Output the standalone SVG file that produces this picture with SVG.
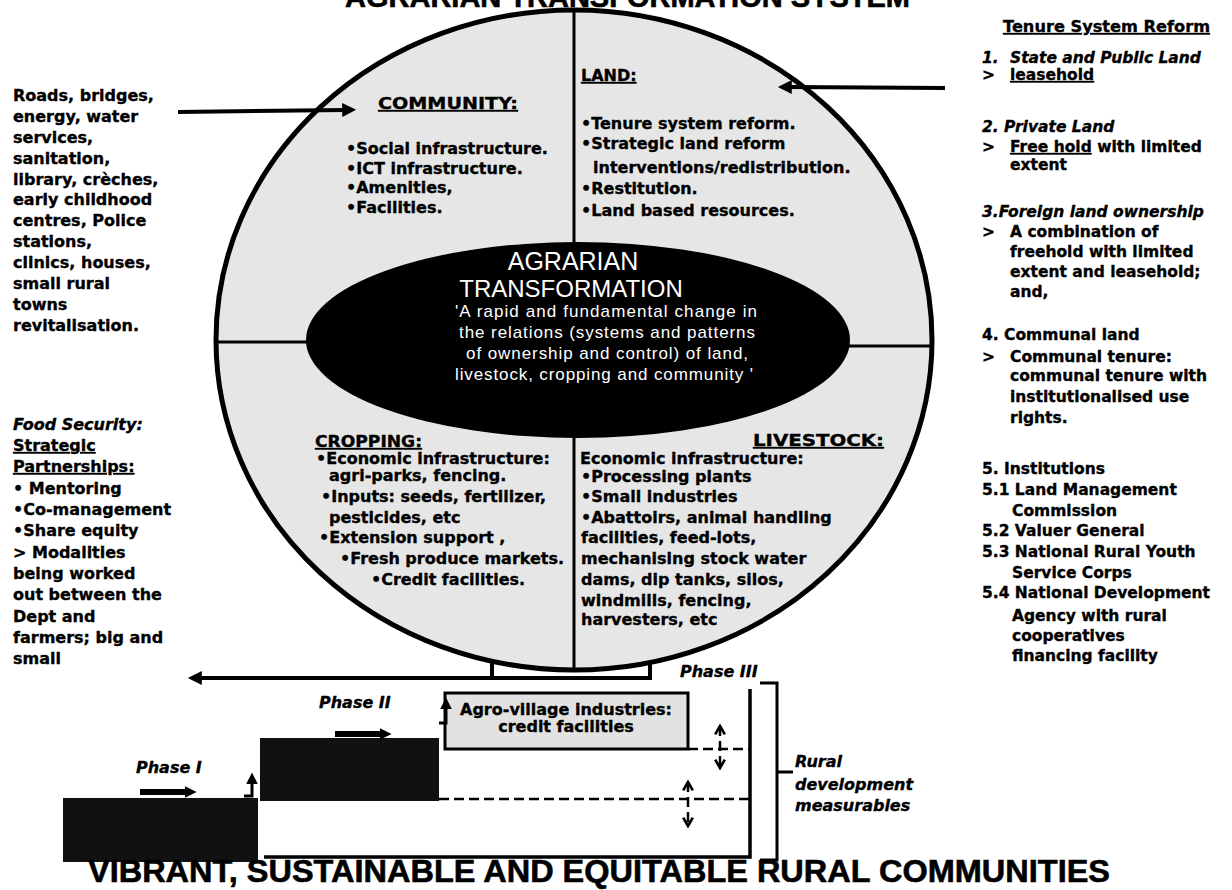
<svg xmlns="http://www.w3.org/2000/svg" width="1232" height="890" viewBox="0 0 1232 890">
<defs>
<style>
.t{font-family:"DejaVu Sans","Liberation Sans",sans-serif;font-weight:bold;font-size:16px;fill:#000;stroke:#000;stroke-width:0.35}
.r{font-size:15.5px}
.i{font-style:italic}
.u{text-decoration:underline}
.h{font-family:"Liberation Sans",Arial,sans-serif;font-weight:bold;fill:#000;stroke:#000;stroke-width:0.6}
.w{font-family:"Liberation Sans",Arial,sans-serif;fill:#fff}
.ln{stroke:#000;fill:none}
.ds{stroke:#000;fill:none;stroke-width:2.5;stroke-dasharray:10 5}
</style>
<marker id="ah" viewBox="0 0 10 10" refX="2" refY="5" markerWidth="18" markerHeight="14" markerUnits="userSpaceOnUse" orient="auto"><path d="M0,0 L10,5 L0,10 z" fill="#000"/></marker>
<marker id="ahs" viewBox="0 0 10 10" refX="2" refY="5" markerWidth="12" markerHeight="12" markerUnits="userSpaceOnUse" orient="auto"><path d="M0,0 L10,5 L0,10 z" fill="#000"/></marker>
<marker id="chev" viewBox="0 0 10 10" refX="8" refY="5" markerWidth="12" markerHeight="14" markerUnits="userSpaceOnUse" orient="auto-start-reverse"><path d="M1,1 L8,5 L1,9" fill="none" stroke="#000" stroke-width="2.2"/></marker>
</defs>
<rect width="1232" height="890" fill="#fff"/>

<g id="title">
<text class="h" x="345" y="7" font-size="29">AGRARIAN TRANSFORMATION SYSTEM</text>
</g>

<g id="wheel">
<ellipse cx="574" cy="340" rx="358" ry="330" fill="#e6e6e6" stroke="#000" stroke-width="5"/>
<line class="ln" x1="574" y1="10" x2="574" y2="244" stroke-width="3"/>
<line class="ln" x1="574" y1="436" x2="574" y2="670" stroke-width="3"/>
<line class="ln" x1="216" y1="342" x2="308" y2="342" stroke-width="3"/>
<line class="ln" x1="848" y1="346" x2="932" y2="346" stroke-width="3"/>
</g>

<g id="community">
<text class="t u" x="378" y="109" textLength="140" lengthAdjust="spacingAndGlyphs">COMMUNITY:</text>
<text class="t" x="346" y="154">•Social infrastructure.</text>
<text class="t" x="346" y="174">•ICT infrastructure.</text>
<text class="t" x="346" y="193">•Amenities,</text>
<text class="t" x="346" y="213">•Facilities.</text>
</g>

<g id="land">
<text class="t u" x="581" y="81">LAND:</text>
<text class="t" x="581" y="129">•Tenure system reform.</text>
<text class="t" x="581" y="149">•Strategic land reform</text>
<text class="t" x="593" y="173">interventions/redistribution.</text>
<text class="t" x="581" y="194">•Restitution.</text>
<text class="t" x="581" y="216">•Land based resources.</text>
</g>

<g id="center">
<ellipse cx="578" cy="340" rx="272" ry="98" fill="#000"/>
<text class="w" x="573" y="270" font-size="25" text-anchor="middle">AGRARIAN</text>
<text class="w" x="571" y="297" font-size="24" text-anchor="middle">TRANSFORMATION</text>
<text class="w" x="606" y="317" font-size="17" text-anchor="middle" textLength="302" lengthAdjust="spacing">'A rapid and fundamental change in</text>
<text class="w" x="607" y="338" font-size="17" text-anchor="middle" textLength="296" lengthAdjust="spacing">the relations (systems and patterns</text>
<text class="w" x="607" y="359" font-size="17" text-anchor="middle" textLength="282" lengthAdjust="spacing">of ownership and control) of land,</text>
<text class="w" x="604" y="380" font-size="17" text-anchor="middle" textLength="298" lengthAdjust="spacing">livestock, cropping and community '</text>
</g>

<g id="cropping">
<text class="t u" x="315" y="447" textLength="107" lengthAdjust="spacingAndGlyphs">CROPPING:</text>
<text class="t" x="316" y="464">•Economic infrastructure:</text>
<text class="t" x="329" y="481">agri-parks, fencing.</text>
<text class="t" x="321" y="502">•Inputs: seeds, fertilizer,</text>
<text class="t" x="329" y="523">pesticides, etc</text>
<text class="t" x="319" y="543">•Extension support ,</text>
<text class="t" x="340" y="564">•Fresh produce markets.</text>
<text class="t" x="371" y="585">•Credit facilities.</text>
</g>

<g id="livestock">
<text class="t u" x="753" y="446" textLength="131" lengthAdjust="spacingAndGlyphs">LIVESTOCK:</text>
<text class="t" x="580" y="464">Economic infrastructure:</text>
<text class="t" x="581" y="482">•Processing plants</text>
<text class="t" x="581" y="502">•Small industries</text>
<text class="t" x="581" y="523">•Abattoirs, animal handling</text>
<text class="t" x="581" y="543">facilities, feed-lots,</text>
<text class="t" x="581" y="564">mechanising stock water</text>
<text class="t" x="581" y="585">dams, dip tanks, silos,</text>
<text class="t" x="581" y="606">windmills, fencing,</text>
<text class="t" x="581" y="625">harvesters, etc</text>
</g>

<g id="infrastructure-list">
<text class="t" x="13" y="101">Roads, bridges,</text>
<text class="t" x="13" y="122">energy, water</text>
<text class="t" x="13" y="143">services,</text>
<text class="t" x="13" y="164">sanitation,</text>
<text class="t" x="13" y="185">library, crèches,</text>
<text class="t" x="13" y="205">early childhood</text>
<text class="t" x="13" y="226">centres, Police</text>
<text class="t" x="13" y="247">stations,</text>
<text class="t" x="13" y="268">clinics, houses,</text>
<text class="t" x="13" y="289">small rural</text>
<text class="t" x="13" y="310">towns</text>
<text class="t" x="13" y="331">revitalisation.</text>
</g>

<g id="food-security">
<text class="t i" x="13" y="430">Food Security:</text>
<text class="t u" x="13" y="451">Strategic</text>
<text class="t u" x="13" y="472">Partnerships:</text>
<text class="t" x="13" y="494">• Mentoring</text>
<text class="t" x="13" y="515">•Co-management</text>
<text class="t" x="13" y="536">•Share equity</text>
<text class="t" x="13" y="558">&gt; Modalities</text>
<text class="t" x="13" y="579">being worked</text>
<text class="t" x="13" y="600">out between the</text>
<text class="t" x="13" y="622">Dept and</text>
<text class="t" x="13" y="643">farmers; big and</text>
<text class="t" x="13" y="664">small</text>
</g>

<g id="tenure">
<text class="t u" x="1003" y="32" font-size="13" textLength="207" lengthAdjust="spacingAndGlyphs">Tenure System Reform</text>
<text class="t r i" x="982" y="63">1.</text><text class="t r i" x="1010" y="63">State  and Public Land</text>
<text class="t r" x="982" y="80">&gt;</text><text class="t r u" x="1010" y="80">leasehold</text>
<text class="t r i" x="982" y="132">2. Private Land</text>
<text class="t r" x="982" y="152">&gt;</text><text class="t r" x="1010" y="152"><tspan class="u">Free hold</tspan> with limited</text>
<text class="t r" x="1010" y="170">extent</text>
<text class="t r i" x="982" y="217">3.Foreign land ownership</text>
<text class="t r" x="982" y="237">&gt;</text><text class="t r" x="1010" y="237">A combination of</text>
<text class="t r" x="1010" y="257">freehold  with limited</text>
<text class="t r" x="1010" y="277">extent and leasehold;</text>
<text class="t r" x="1010" y="297">and,</text>
<text class="t r" x="982" y="340">4. Communal land</text>
<text class="t r" x="982" y="362">&gt;</text><text class="t r" x="1010" y="362">Communal tenure:</text>
<text class="t r" x="1010" y="381">communal tenure with</text>
<text class="t r" x="1010" y="402">institutionalised use</text>
<text class="t r" x="1010" y="423">rights.</text>
<text class="t r" x="982" y="474">5. Institutions</text>
<text class="t r" x="982" y="495">5.1 Land Management</text>
<text class="t r" x="1012" y="516">Commission</text>
<text class="t r" x="982" y="536">5.2 Valuer General</text>
<text class="t r" x="982" y="557">5.3 National Rural Youth</text>
<text class="t r" x="1012" y="578">Service Corps</text>
<text class="t r" x="982" y="598">5.4  National Development</text>
<text class="t r" x="1012" y="621">Agency with rural</text>
<text class="t r" x="1012" y="641">cooperatives</text>
<text class="t r" x="1012" y="661">financing facility</text>
</g>

<g id="phase1">
<rect x="63" y="798" width="195" height="64" fill="#111"/>
<text class="t i" x="136" y="773" font-size="15">Phase I</text>
</g>
<g id="phase2">
<rect x="260" y="738" width="179" height="63" fill="#111"/>
<text class="t i" x="319" y="708" font-size="15">Phase II</text>
</g>
<g id="phase3">
<rect x="445" y="693" width="243" height="56" fill="#e2e2e2" stroke="#000" stroke-width="3"/>
<text class="t" x="566" y="715" font-size="14" text-anchor="middle">Agro-village industries:</text>
<text class="t" x="566" y="732" font-size="14" text-anchor="middle">credit facilities</text>
<text class="t i" x="680" y="677" font-size="15">Phase III</text>
</g>

<g id="measurables">
<text class="t i" x="795" y="767" font-size="15">Rural</text>
<text class="t i" x="795" y="790" font-size="15">development</text>
<text class="t i" x="795" y="811" font-size="15">measurables</text>
</g>

<g id="connectors">
<line class="ln" x1="178" y1="112" x2="345" y2="110" stroke-width="4" marker-end="url(#ah)"/>
<line class="ln" x1="945" y1="88" x2="789" y2="87" stroke-width="4" marker-end="url(#ah)"/>
<polyline class="ln" points="492,662 492,678" stroke-width="4"/>
<polyline class="ln" points="650,662 650,678" stroke-width="4"/>
<line class="ln" x1="652" y1="678" x2="199" y2="678" stroke-width="4" marker-end="url(#ah)"/>
<line class="ln" x1="140" y1="792" x2="187" y2="792" stroke-width="6" marker-end="url(#ahs)"/>
<line class="ln" x1="335" y1="734" x2="382" y2="734" stroke-width="6" marker-end="url(#ahs)"/>
<path class="ln" d="M244,796 H252 V782" stroke-width="3" marker-end="url(#ahs)"/>
<path class="ln" d="M439,723 H446 V707" stroke-width="3" marker-end="url(#ahs)"/>
<line class="ds" x1="688" y1="749" x2="750" y2="749"/>
<line class="ds" x1="439" y1="799" x2="750" y2="799"/>
<line class="ds" x1="720" y1="726" x2="720" y2="768" stroke-dasharray="5 4" marker-start="url(#chev)" marker-end="url(#chev)"/>
<line class="ds" x1="688" y1="782" x2="688" y2="826" stroke-dasharray="5 4" marker-start="url(#chev)" marker-end="url(#chev)"/>
<polyline class="ln" points="264,857 750,857 750,689" stroke-width="3.5"/>
<path class="ln" d="M760,683 H777 V860 H760 M777,772 H793" stroke-width="3"/>
</g>

<g id="footer">
<text class="h" x="88" y="882" font-size="32" textLength="1022" lengthAdjust="spacingAndGlyphs">VIBRANT, SUSTAINABLE AND EQUITABLE RURAL COMMUNITIES</text>
</g>
</svg>
